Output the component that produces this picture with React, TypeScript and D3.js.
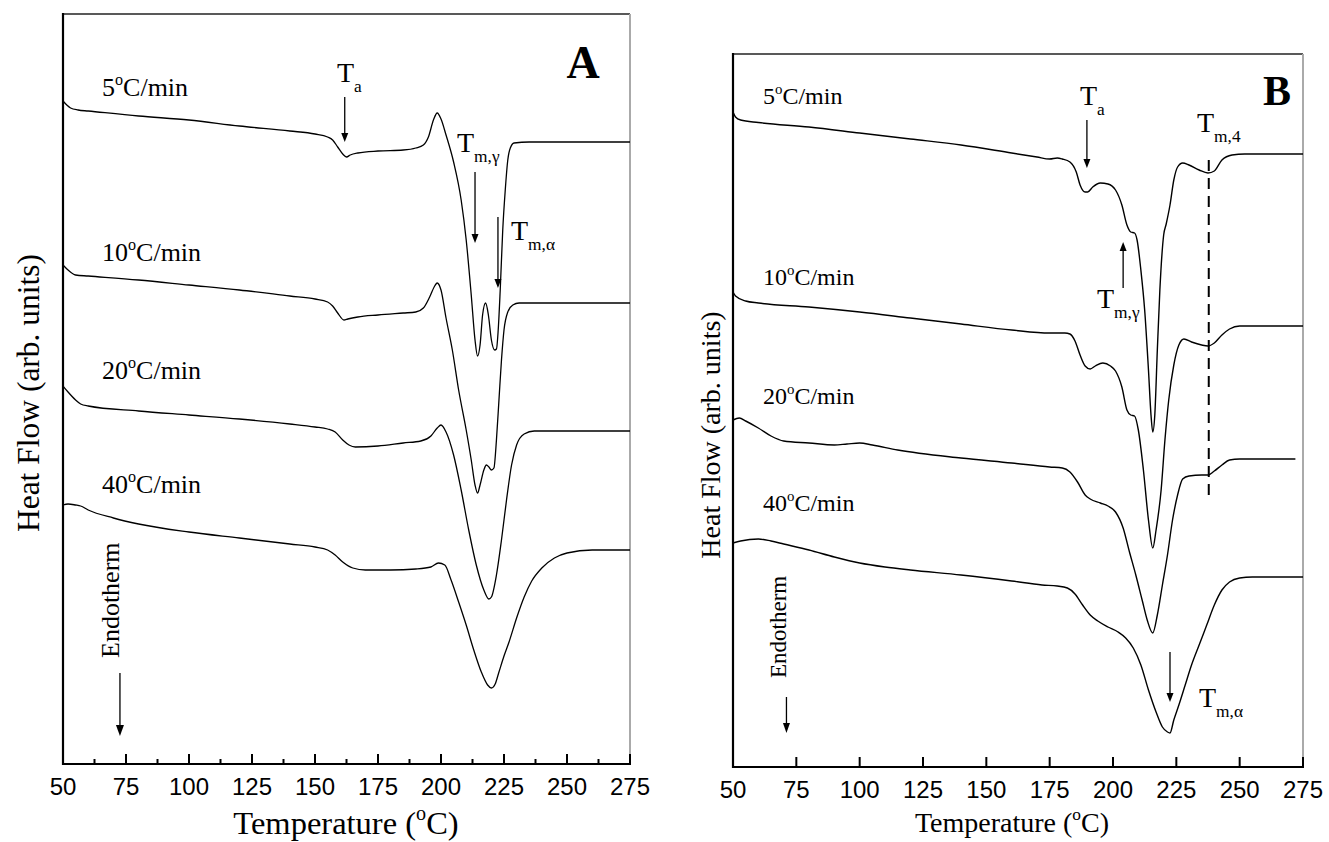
import React from 'react';
import * as d3 from 'd3';

// ---------- data ----------
const xTicks = [50, 75, 100, 125, 150, 175, 200, 225, 250, 275];
const minorTicksA = [62.5, 87.5, 112.5, 137.5, 162.5, 187.5, 212.5, 237.5, 262.5];

type Pt = [number, number]; // [temperature °C, heat flow (arb. units)]

// Panel A
const a5: Pt[] = [[50,663],[51.5,659],[53,656],[56,654],[60,653],[80,648],[100,644],[120,638],[140,633],[150,630],[155,627],[157,624],[159,617],[161,610],[162.5,607],[164,609],[167,611],[175,613],[185,614],[190,616],[193,619],[195,627],[197,644],[198.5,651],[200,645],[202,629],[205,602],[208,564],[210,524],[212,469],[213.5,424],[214.5,408],[215.5,419],[216.5,449],[217.7,461],[218.8,449],[220,424],[221.3,414],[222,415],[222.7,434],[223.5,474],[224.5,534],[225.5,574],[226.5,604],[227.5,616],[229,621],[235,622],[275,622]];
const a10: Pt[] = [[50,499],[52,494],[55,489],[60,488],[80,484],[100,479],[120,474],[140,468],[150,465],[155,462],[157,458],[159,451],[161.5,444],[163,445],[167,447],[175,449],[185,451],[190,452],[193,456],[195.5,467],[197.5,478],[198.5,481],[200,474],[202,446],[204.5,414],[207,374],[210,334],[212,304],[213.5,279],[214.5,271],[215.5,279],[217,294],[218,299],[219,297],[220,294],[221,296],[222,324],[223,364],[224,404],[225,434],[226.5,452],[228.5,459],[231,461],[275,461]];
const a20: Pt[] = [[50,378],[52,372],[55,364],[57,360],[60,358],[80,353],[100,349],[120,345],[140,340],[150,337],[155,335],[158,332],[161,324],[163.5,319],[166,317],[175,318],[185,321],[192,323],[196,328],[198.5,336],[200,339],[202,332],[205,309],[208,274],[211,234],[214,199],[217,174],[219,165],[220,167],[222,189],[224,224],[226,264],[228,299],[230,319],[233,330],[237,333],[275,333]];
const a40: Pt[] = [[50,259],[52,260],[55,259],[57,258],[60,254],[70,246],[80,240],[100,232],[120,226],[140,220],[150,217],[155,214],[158,209],[161,202],[165,196],[170,194],[180,194],[190,195],[196,197],[199,201],[201.5,199],[204,184],[207,162],[210,139],[213,114],[216,92],[218.5,79],[220,76],[221.5,80],[223,92],[225,108],[227,122],[230,146],[233,167],[236,183],[240,196],[245,206],[250,211],[260,214],[275,214]];

// Panel B
const b5: Pt[] = [[50,655],[51,650],[53,647],[60,644.5],[80,640],[100,634],[120,628],[140,622],[160,614],[170,610],[175,608],[178,609],[180,608],[183,605],[185.5,595],[187,582],[189,575],[190,575],[192,580],[195,584],[198,583],[201,577],[203.5,562],[205.5,542],[207,535],[208.5,534],[209.5,527],[211,497],[212.5,457],[214,397],[215,352],[215.7,335],[216.5,352],[217.5,417],[218.5,477],[220,532],[221,543],[222.5,562],[224,587],[225.5,600],[227.5,604],[230,602],[234,597],[237.5,594],[240,596],[243,607],[247,612],[252,613],[275,613]];
const b10: Pt[] = [[50,475],[51,471],[55,466],[60,464],[80,460],[100,455],[120,449],[140,443],[160,437],[175,434],[181,434],[183,433],[185,426],[187,412],[189,401],[191,398],[193,401],[196,404],[199,401],[201,396],[203.5,380],[205.5,357],[207,352],[208.5,351],[210,337],[212,297],[214,247],[215.7,219],[217,237],[219,277],[220.5,327],[222,367],[224,402],[226,422],[228,428],[231,425],[235,422],[237.5,421],[240,424],[243,432],[246,438],[250,441],[275,441]];
const b20: Pt[] = [[50,347],[52.5,349],[55,346],[60,339],[65,331],[70,326],[80,324],[90,322],[95,323],[100,324],[105,322],[115,317],[140,309],[160,304],[175,300],[180,299],[183,295],[186,285],[189,272],[191,268],[195,264],[198,261],[201,255],[204,239],[206.5,215],[209,192],[211.5,167],[213.5,147],[215.7,134],[217.5,152],[219.5,182],[221.5,212],[223.5,247],[225.5,272],[227.5,288],[230,291],[235,292],[237.5,292],[240,296],[243,302],[246,307],[250,308],[272,308]];
const b40: Pt[] = [[50,224],[53,226],[60,228],[65,226],[70,223],[80,217],[90,210],[100,204],[110,200],[120,197],[140,192],[160,186],[172,182],[178,181],[182,179],[185,173],[188,162],[191,152],[194,146],[198,140],[202,135],[205,129],[208,119],[211,102],[214,77],[217,55],[219.5,40],[221.5,35],[222.5,34],[224,47],[226,62],[228.5,82],[231,102],[234,122],[237,142],[240,162],[243,177],[246,185],[250,189],[255,190],[275,190]];

const rateLabels = ['5', '10', '20', '40'];

// ---------- helpers ----------
const SERIF = '"Liberation Serif", "Times New Roman", serif';
const SANS = '"Liberation Sans", Arial, sans-serif';

function Deg({ x, y, pre, post, fs, anchor = 'start', transform }: any) {
  const s = fs * 0.42;
  return (
    <text x={x} y={y} fontSize={fs} fontFamily={SERIF} textAnchor={anchor} transform={transform}>
      {pre}
      <tspan dy={-s} fontSize={fs * 0.62}>o</tspan>
      <tspan dy={s}>{post}</tspan>
    </text>
  );
}

function TSub({ x, y, sub, fs }: any) {
  const d = fs * 0.35;
  return (
    <text x={x} y={y} fontSize={fs} fontFamily={SERIF}>
      T<tspan dy={d} fontSize={fs * 0.62}>{sub}</tspan>
    </text>
  );
}

function Arrow({ x1, y1, x2, y2, head = 9, w = 3.5 }: any) {
  const dir = Math.sign(y2 - y1);
  return (
    <g>
      <line x1={x1} y1={y1} x2={x2} y2={y2 - dir * head * 0.6} stroke="#000" strokeWidth={1.3} />
      <path d={`M${x2},${y2} L${x2 - w},${y2 - dir * head} L${x2 + w},${y2 - dir * head} Z`} fill="#000" />
    </g>
  );
}

function Frame({ x, y, minor }: any) {
  const [x0, x1] = x.range();
  const [yb, yt] = y.range();
  return (
    <g>
      <line x1={x0} y1={yt} x2={x1} y2={yt} stroke="#222" strokeWidth={1.3} />
      <line x1={x1} y1={yt} x2={x1} y2={yb} stroke="#aaa" strokeWidth={2} />
      <line x1={x0} y1={yt - 1} x2={x0} y2={yb + 1} stroke="#000" strokeWidth={2.2} />
      <line x1={x0 - 1} y1={yb} x2={x1 + 1} y2={yb} stroke="#000" strokeWidth={2.2} />
      {xTicks.map((t) => (
        <g key={t}>
          <line x1={x(t)} x2={x(t)} y1={yb} y2={yb - 10} stroke="#000" strokeWidth={2} />
          <text x={x(t)} y={yb + 31} fontSize={24} fontFamily={SANS} textAnchor="middle">{t}</text>
        </g>
      ))}
      {minor && minorTicksA.map((t) => (
        <line key={t} x1={x(t)} x2={x(t)} y1={yb} y2={yb - 5} stroke="#000" strokeWidth={2} />
      ))}
    </g>
  );
}

export default function App() {
  // Panel A scales
  const xA = d3.scaleLinear().domain([50, 275]).range([63, 630]);
  const yA = d3.scaleLinear().domain([0, 750]).range([764, 14]);
  // Panel B scales
  const xB = d3.scaleLinear().domain([50, 275]).range([733, 1303]);
  const yB = d3.scaleLinear().domain([0, 713]).range([767, 54]);

  const lineA = d3.line<Pt>().x((d) => xA(d[0])).y((d) => yA(d[1])).curve(d3.curveMonotoneX);
  const lineB = d3.line<Pt>().x((d) => xB(d[0])).y((d) => yB(d[1])).curve(d3.curveMonotoneX);

  const seriesA = [a5, a10, a20, a40];
  const seriesB = [b5, b10, b20, b40];

  const labelYA = [96, 261, 379, 493];
  const labelYB = [104, 285, 404, 511];

  return (
    <svg width={1329} height={842} style={{ position: 'absolute', left: 0, top: 0, background: '#fff' }}>
      <rect width={1329} height={842} fill="#fff" />
      {/* ---------------- Panel A ---------------- */}
      <Frame x={xA} y={yA} minor />
      {seriesA.map((s, i) => (
        <path key={i} d={lineA(s) || ''} fill="none" stroke="#000" strokeWidth={1.3} />
      ))}
      {rateLabels.map((r, i) => (
        <Deg key={r} x={102} y={labelYA[i]} pre={r} post="C/min" fs={26} />
      ))}
      <text x={583} y={78} fontSize={46} fontWeight="bold" fontFamily={SERIF} textAnchor="middle">A</text>
      <TSub x={337} y={82} sub="a" fs={28} />
      <Arrow x1={xA(161.8)} y1={yA(667)} x2={xA(161.8)} y2={yA(622)} />
      <TSub x={457} y={152} sub="m,γ" fs={28} />
      <Arrow x1={xA(213.5)} y1={yA(592)} x2={xA(213.5)} y2={yA(521)} />
      <TSub x={511} y={240} sub="m,α" fs={28} />
      <Arrow x1={xA(222.6)} y1={yA(547)} x2={xA(222.6)} y2={yA(476)} />
      <text transform="translate(119,658) rotate(-90)" fontSize={26} fontFamily={SERIF}>Endotherm</text>
      <Arrow x1={xA(72.6)} y1={yA(91)} x2={xA(72.6)} y2={yA(28)} head={11} w={4} />
      <text transform="translate(39,393) rotate(-90)" fontSize={31.5} fontFamily={SERIF} textAnchor="middle">Heat Flow (arb. units)</text>
      <Deg x={346} y={834} pre="Temperature (" post="C)" fs={32.5} anchor="middle" />

      {/* ---------------- Panel B ---------------- */}
      <Frame x={xB} y={yB} minor={false} />
      {seriesB.map((s, i) => (
        <path key={i} d={lineB(s) || ''} fill="none" stroke="#000" strokeWidth={1.4} />
      ))}
      <line x1={xB(237.8)} x2={xB(237.8)} y1={yB(607)} y2={yB(267)} stroke="#000" strokeWidth={2} strokeDasharray="11,7" />
      {rateLabels.map((r, i) => (
        <Deg key={r} x={763} y={labelYB[i]} pre={r} post="C/min" fs={24} />
      ))}
      <text x={1277} y={105} fontSize={42} fontWeight="bold" fontFamily={SERIF} textAnchor="middle">B</text>
      <TSub x={1080} y={105} sub="a" fs={28} />
      <Arrow x1={xB(189.7)} y1={yB(647)} x2={xB(189.7)} y2={yB(599)} />
      <TSub x={1197} y={132} sub="m,4" fs={28} />
      <TSub x={1097} y={308} sub="m,γ" fs={28} />
      <Arrow x1={xB(204)} y1={yB(479)} x2={xB(204)} y2={yB(525)} />
      <TSub x={1199} y={707} sub="m,α" fs={28} />
      <Arrow x1={xB(222.5)} y1={yB(115)} x2={xB(222.5)} y2={yB(65)} />
      <text transform="translate(786,678) rotate(-90)" fontSize={23} fontFamily={SERIF}>Endotherm</text>
      <Arrow x1={xB(71.1)} y1={yB(70)} x2={xB(71.1)} y2={yB(34)} head={10} w={3.5} />
      <text transform="translate(720,435) rotate(-90)" fontSize={28} fontFamily={SERIF} textAnchor="middle">Heat Flow (arb. units)</text>
      <Deg x={1012} y={832} pre="Temperature (" post="C)" fs={28} anchor="middle" />
    </svg>
  );
}
